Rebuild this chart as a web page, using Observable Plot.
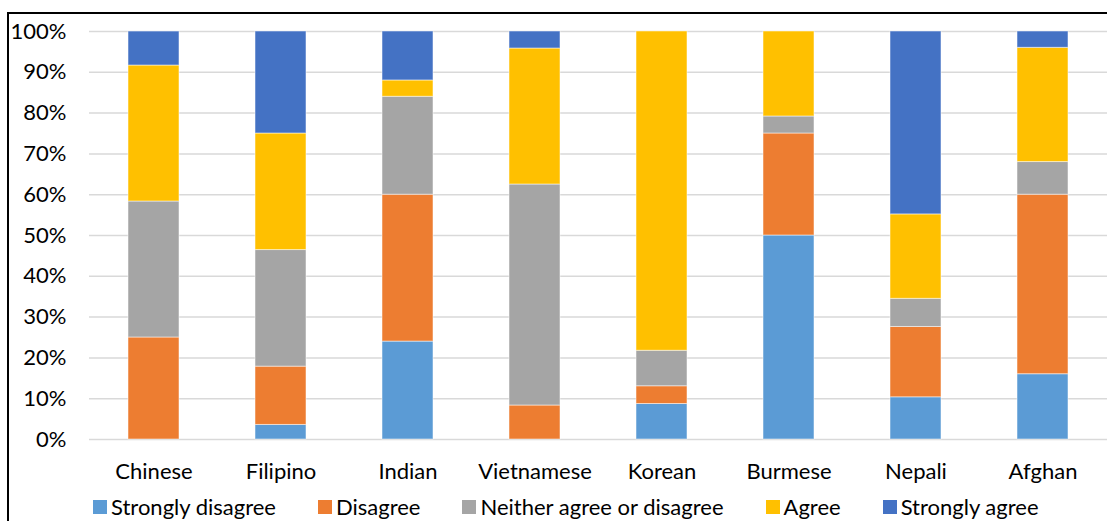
<!DOCTYPE html>
<html>
<head>
<meta charset="utf-8">
<script src="https://cdn.jsdelivr.net/npm/d3@7"></script>
<script src="https://cdn.jsdelivr.net/npm/@observablehq/plot@0.6"></script>
<style>
  html, body { margin: 0; padding: 0; background: #fff; overflow: hidden; }
  #wrap { position: relative; width: 1107px; height: 521px; overflow: hidden; font-family: Lato, "Open Sans", sans-serif; }
  #frame { position: absolute; left: 7px; top: 12px; width: 1200px; height: 600px; border: 2px solid #000; box-sizing: border-box; }
  #chart { position: absolute; left: 0; top: 0; }
  #legend { position: absolute; left: 93px; top: 493px; display: flex; align-items: center; font-size: 22px; line-height: 28px; color: #000; white-space: nowrap; }
  .item { display: flex; align-items: center; margin-right: 42px; }
  .sw { width: 14px; height: 14px; margin-right: 4px; }
</style>
</head>
<body>
<div id="wrap">
  <div id="frame"></div>
  <div id="chart"></div>
  <div id="legend"></div>
</div>
<script>
const groups = ["Chinese", "Filipino", "Indian", "Vietnamese", "Korean", "Burmese", "Nepali", "Afghan"];
const responses = ["Strongly disagree", "Disagree", "Neither agree or disagree", "Agree", "Strongly agree"];
const colors = ["#5B9BD5", "#ED7D31", "#A5A5A5", "#FFC000", "#4472C4"];
// shares (%) per group, in order of responses
const stronglyDisagree = [0, 3.57, 24, 0, 8.70, 50, 10.34, 16];
const disagree         = [25, 14.29, 36, 8.33, 4.35, 25, 17.24, 44];
const neither          = [33.33, 28.57, 24, 54.17, 8.70, 4.17, 6.90, 8];
const agree            = [33.33, 28.57, 4, 33.33, 78.26, 20.83, 20.69, 28];
const stronglyAgree    = [8.33, 25, 12, 4.17, 0, 0, 44.83, 4];
const yTicks = [0, 0.1, 0.2, 0.3, 0.4, 0.5, 0.6, 0.7, 0.8, 0.9, 1];

const series = [stronglyDisagree, disagree, neither, agree, stronglyAgree];
const rows = [];
responses.forEach((r, i) => {
  groups.forEach((g, j) => rows.push({group: g, response: r, value: series[i][j] / 100}));
});

const chart = Plot.plot({
  width: 1107,
  height: 490,
  marginLeft: 89,
  marginRight: 0,
  marginTop: 31,
  marginBottom: 51,
  style: {fontFamily: "Lato, 'Open Sans', sans-serif", fontSize: "22px", color: "#000", background: "transparent", overflow: "visible"},
  x: {domain: groups, paddingInner: 0.6, paddingOuter: 0.3, label: null},
  y: {domain: [0, 1], label: null},
  color: {domain: responses, range: colors},
  marks: [
    Plot.gridY(yTicks, {stroke: "#d9d9d9", strokeWidth: 1.5, strokeOpacity: 1}),
    Plot.barY(rows, Plot.stackY({order: responses}, {x: "group", y: "value", fill: "response", stroke: "#ffffff", strokeOpacity: 0.5, strokeWidth: 1})),
    Plot.axisY({ticks: yTicks, tickFormat: d3.format(".0%"), tickSize: 0, tickPadding: 23, label: null}),
    Plot.axisX({tickSize: 0, tickPadding: 23.4, label: null})
  ]
});
document.getElementById("chart").appendChild(chart);

const legend = document.getElementById("legend");
responses.forEach((r, i) => {
  const it = document.createElement("div");
  it.className = "item";
  const sw = document.createElement("span");
  sw.className = "sw";
  sw.style.background = colors[i];
  const t = document.createElement("span");
  t.textContent = r;
  it.appendChild(sw); it.appendChild(t);
  legend.appendChild(it);
});
</script>
</body>
</html>
